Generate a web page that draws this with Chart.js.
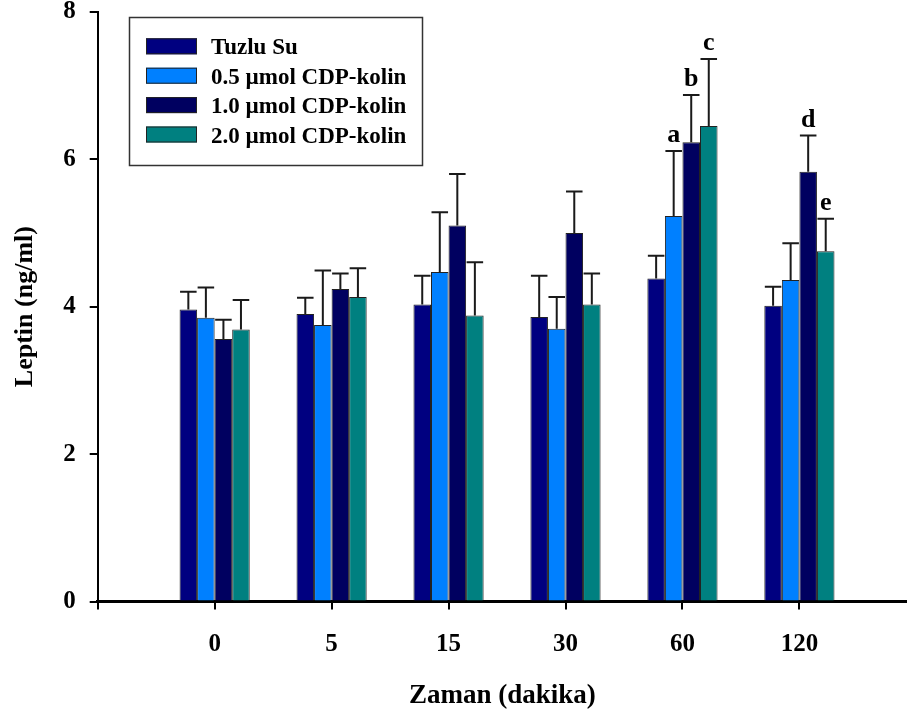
<!DOCTYPE html>
<html><head><meta charset="utf-8">
<script src="https://cdn.jsdelivr.net/npm/chart.js@4"></script>
<style>html,body{margin:0;padding:0;background:#fff;overflow:hidden}canvas{display:block}</style>
</head><body>
<canvas id="c" width="907" height="713"></canvas>
<script>
const categories = ['0', '5', '15', '30', '60', '120'];
const seriesLabels = ['Tuzlu Su', '0.5 \u00b5mol CDP-kolin', '1.0 \u00b5mol CDP-kolin', '2.0 \u00b5mol CDP-kolin'];
const tuzluSu    = [3.96, 3.90, 4.03, 3.86, 4.38, 4.01];
const tuzluSuErr = [0.24, 0.22, 0.39, 0.56, 0.31, 0.26];
const cdp05      = [3.85, 3.75, 4.47, 3.70, 5.23, 4.36];
const cdp05Err   = [0.41, 0.74, 0.81, 0.43, 0.88, 0.50];
const cdp10      = [3.56, 4.24, 5.10, 5.00, 6.23, 5.83];
const cdp10Err   = [0.26, 0.21, 0.70, 0.56, 0.64, 0.49];
const cdp20      = [3.69, 4.13, 3.88, 4.03, 6.45, 4.75];
const cdp20Err   = [0.40, 0.39, 0.72, 0.42, 0.91, 0.44];
const tuzluSuSig = ['', '', '', '', '', ''];
const cdp05Sig   = ['', '', '', '', 'a', ''];
const cdp10Sig   = ['', '', '', '', 'b', 'd'];
const cdp20Sig   = ['', '', '', '', 'c', 'e'];
const yTicks = [0, 2, 4, 6, 8];

const seriesValues = [tuzluSu, cdp05, cdp10, cdp20];
const seriesErrors = [tuzluSuErr, cdp05Err, cdp10Err, cdp20Err];
const seriesSig = [tuzluSuSig, cdp05Sig, cdp10Sig, cdp20Sig];
const colors = ['#000080', '#0080ff', '#000060', '#008080'];
const FONT = '"Liberation Serif", "Times New Roman", serif';

const errorBars = {
  id: 'errorBars',
  afterDatasetsDraw(chart) {
    const ctx = chart.ctx, ys = chart.scales.y;
    ctx.save();
    ctx.strokeStyle = '#1a1a1a';
    ctx.lineWidth = 2;
    ctx.fillStyle = '#000';
    ctx.font = 'bold 26px ' + FONT;
    ctx.textAlign = 'center';
    ctx.textBaseline = 'alphabetic';
    chart.data.datasets.forEach((ds, di) => {
      const meta = chart.getDatasetMeta(di);
      meta.data.forEach((bar, i) => {
        const v = seriesValues[di][i], e = seriesErrors[di][i];
        const top = ys.getPixelForValue(v), cap = ys.getPixelForValue(v + e);
        const half = bar.width / 2 - 0.5;
        ctx.beginPath();
        ctx.moveTo(bar.x, top); ctx.lineTo(bar.x, cap);
        ctx.moveTo(bar.x - half, cap); ctx.lineTo(bar.x + half, cap);
        ctx.stroke();
        const L = seriesSig[di][i];
        if (L) ctx.fillText(L, bar.x, cap - 9);
      });
    });
    ctx.restore();
  }
};

const boxLegend = {
  id: 'boxLegend',
  afterDraw(chart) {
    const ctx = chart.ctx;
    ctx.save();
    ctx.strokeStyle = '#333';
    ctx.lineWidth = 1.5;
    ctx.strokeRect(129.5, 17.5, 293, 148);
    ctx.font = 'bold 23px ' + FONT;
    ctx.textAlign = 'left';
    ctx.textBaseline = 'alphabetic';
    chart.data.datasets.forEach((ds, i) => {
      const cy = 46.3 + i * 29.4;
      ctx.fillStyle = ds.backgroundColor;
      ctx.fillRect(146, cy - 8, 51, 16);
      ctx.strokeStyle = '#222';
      ctx.lineWidth = 1;
      ctx.strokeRect(146.5, cy - 7.5, 50, 15);
      ctx.fillStyle = '#000';
      ctx.fillText(ds.label, 211, cy + 8);
    });
    ctx.restore();
  }
};

new Chart(document.getElementById('c'), {
  type: 'bar',
  data: {
    datasets: seriesLabels.map((lab, di) => ({
      label: lab,
      data: categories.map((c, i) => ({ x: i + 1, y: seriesValues[di][i] })),
      backgroundColor: colors[di],
      borderColor: '#222',
      borderWidth: 1,
      categoryPercentage: 0.6,
      barPercentage: 1.0
    }))
  },
  options: {
    responsive: false,
    animation: false,
    devicePixelRatio: 1,
    layout: { padding: { top: 11.7, right: 0, bottom: 0, left: 0 } },
    plugins: { legend: { display: false }, tooltip: { enabled: false } },
    scales: {
      x: {
        type: 'linear',
        offset: false,
        min: 0,
        max: 6.92,
        afterBuildTicks: s => { s.ticks = [0, 1, 2, 3, 4, 5, 6].map(v => ({ value: v })); },
        afterFit: s => { s.height = 111.5; s.paddingLeft = 0; s.paddingRight = 0; },
        ticks: {
          callback: v => (v === 0 ? '' : categories[v - 1]),
          font: { family: FONT, weight: 'bold', size: 25 },
          color: '#000',
          padding: 20,
          maxRotation: 0,
          autoSkip: false
        },
        grid: { offset: false, drawOnChartArea: false, drawTicks: true, tickLength: 8, color: '#000', lineWidth: 2 },
        border: { color: '#000', width: 3 },
        title: { display: true, text: 'Zaman (dakika)', color: '#000', font: { family: FONT, weight: 'bold', size: 27 }, padding: { top: 0, bottom: 1 } }
      },
      y: {
        type: 'linear',
        min: 0,
        max: 8,
        afterBuildTicks: s => { s.ticks = yTicks.map(v => ({ value: v })); },
        afterFit: s => { s.width = 97.7; s.paddingTop = 0; s.paddingBottom = 0; },
        ticks: {
          font: { family: FONT, weight: 'bold', size: 25 },
          color: '#000',
          padding: 14
        },
        grid: { drawOnChartArea: false, drawTicks: true, tickLength: 8, color: '#000', lineWidth: 2 },
        border: { color: '#000', width: 2 },
        title: { display: true, text: 'Leptin (ng/ml)', color: '#000', font: { family: FONT, weight: 'bold', size: 26 }, padding: { top: 10, bottom: 0 } }
      }
    }
  },
  plugins: [errorBars, boxLegend]
});
</script>
</body></html>
